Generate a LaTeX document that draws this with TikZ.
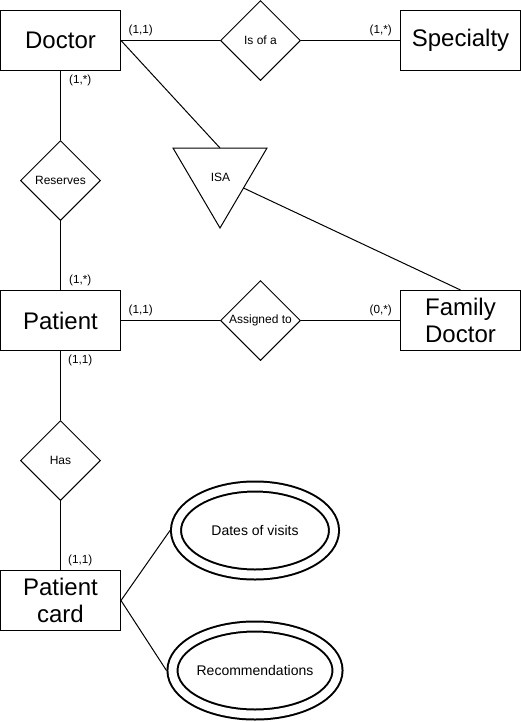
\documentclass[tikz,border=0pt]{standalone}
\usepackage{fontspec}
\setmainfont{Liberation Sans}
\usetikzlibrary{shapes.geometric}

\begin{document}
\begin{tikzpicture}[x=0.75pt, y=-0.75pt, line width=0.75pt,
    entity/.style={draw, rectangle, minimum width=90pt, minimum height=45pt,
      inner sep=0pt, align=center, font=\fontsize{18}{20.7}\selectfont},
    relation/.style={draw, diamond, aspect=1, minimum width=60pt,
      minimum height=60pt, inner sep=0pt, font=\fontsize{9}{10.8}\selectfont},
    reltext/.style={inner sep=0pt, font=\fontsize{9}{10.8}\selectfont},
    mult/.style={inner sep=0pt, font=\fontsize{8.8}{10.5}\selectfont},
    attribute/.style={draw, ellipse, line width=1.5pt, double, double distance=6pt,
      minimum width=118.5pt, minimum height=66pt, inner sep=0pt, outer sep=4.5pt,
      font=\fontsize{10.5}{12.6}\selectfont}]
      \useasboundingbox (0,0) rectangle (521,722);
      % entities
      \node[entity] (doctor) at (60.5,40.5) {Doctor};
      \node[entity] (specialty) at (460.5,40.5) {Specialty};
      \node[entity] (patient) at (60.5,320.5) {Patient};
      \node[entity] (famdoc) at (460.5,320.5) {Family\\Doctor};
      \node[entity] (pcard) at (60.5,600.5) {Patient\\card};
      % relationships
      \node[relation] (isof) at (260.5,40.5) {Is of a};
      \node[relation] (reserves) at (60.5,180.5) {Reserves};
      \node[relation] (assigned) at (260.5,320.5) {Assigned to};
      \node[relation] (has) at (60.5,460.5) {Has};
      % ISA triangle
      \coordinate (isaL) at (173,148);
      \coordinate (isaR) at (267,148);
      \coordinate (isaB) at (220,228);
      \coordinate (isaTop) at (220,148);
      \coordinate (isaSide) at (243.5,188);
      \draw (isaL) -- (isaR) -- (isaB) -- cycle;
      \node[reltext] (isa) at (220.5,177) {ISA};
      % attributes
      \node[attribute] (visits) at (255,530.5) {Dates of visits};
      \node[attribute] (recomm) at (255,670.5) {Recommendations};
      % connectors
      \draw (doctor.east) -- (isof.west);
      \draw (isof.east) -- (specialty.west);
      \draw (doctor.south) -- (reserves.north);
      \draw (reserves.south) -- (patient.north);
      \draw (doctor.east) -- (isaTop);
      \draw (isaSide) -- (famdoc.north);
      \draw (patient.east) -- (assigned.west);
      \draw (assigned.east) -- (famdoc.west);
      \draw (patient.south) -- (has.north);
      \draw (has.south) -- (pcard.north);
      \draw (pcard.east) -- (visits.west);
      \draw (pcard.east) -- (recomm.west);
      % cardinalities
      \node[mult] (m1) at (140.7,30.3) {(1,1)};
      \node[mult] (m2) at (380.7,30.3) {(1,*)};
      \node[mult] (m3) at (80.3,80.7) {(1,*)};
      \node[mult] (m4) at (80.3,280) {(1,*)};
      \node[mult] (m5) at (140.7,310) {(1,1)};
      \node[mult] (m6) at (380.7,310) {(0,*)};
      \node[mult] (m7) at (80.3,360) {(1,1)};
      \node[mult] (m8) at (80.3,560) {(1,1)};
    \end{tikzpicture}
\end{document}
